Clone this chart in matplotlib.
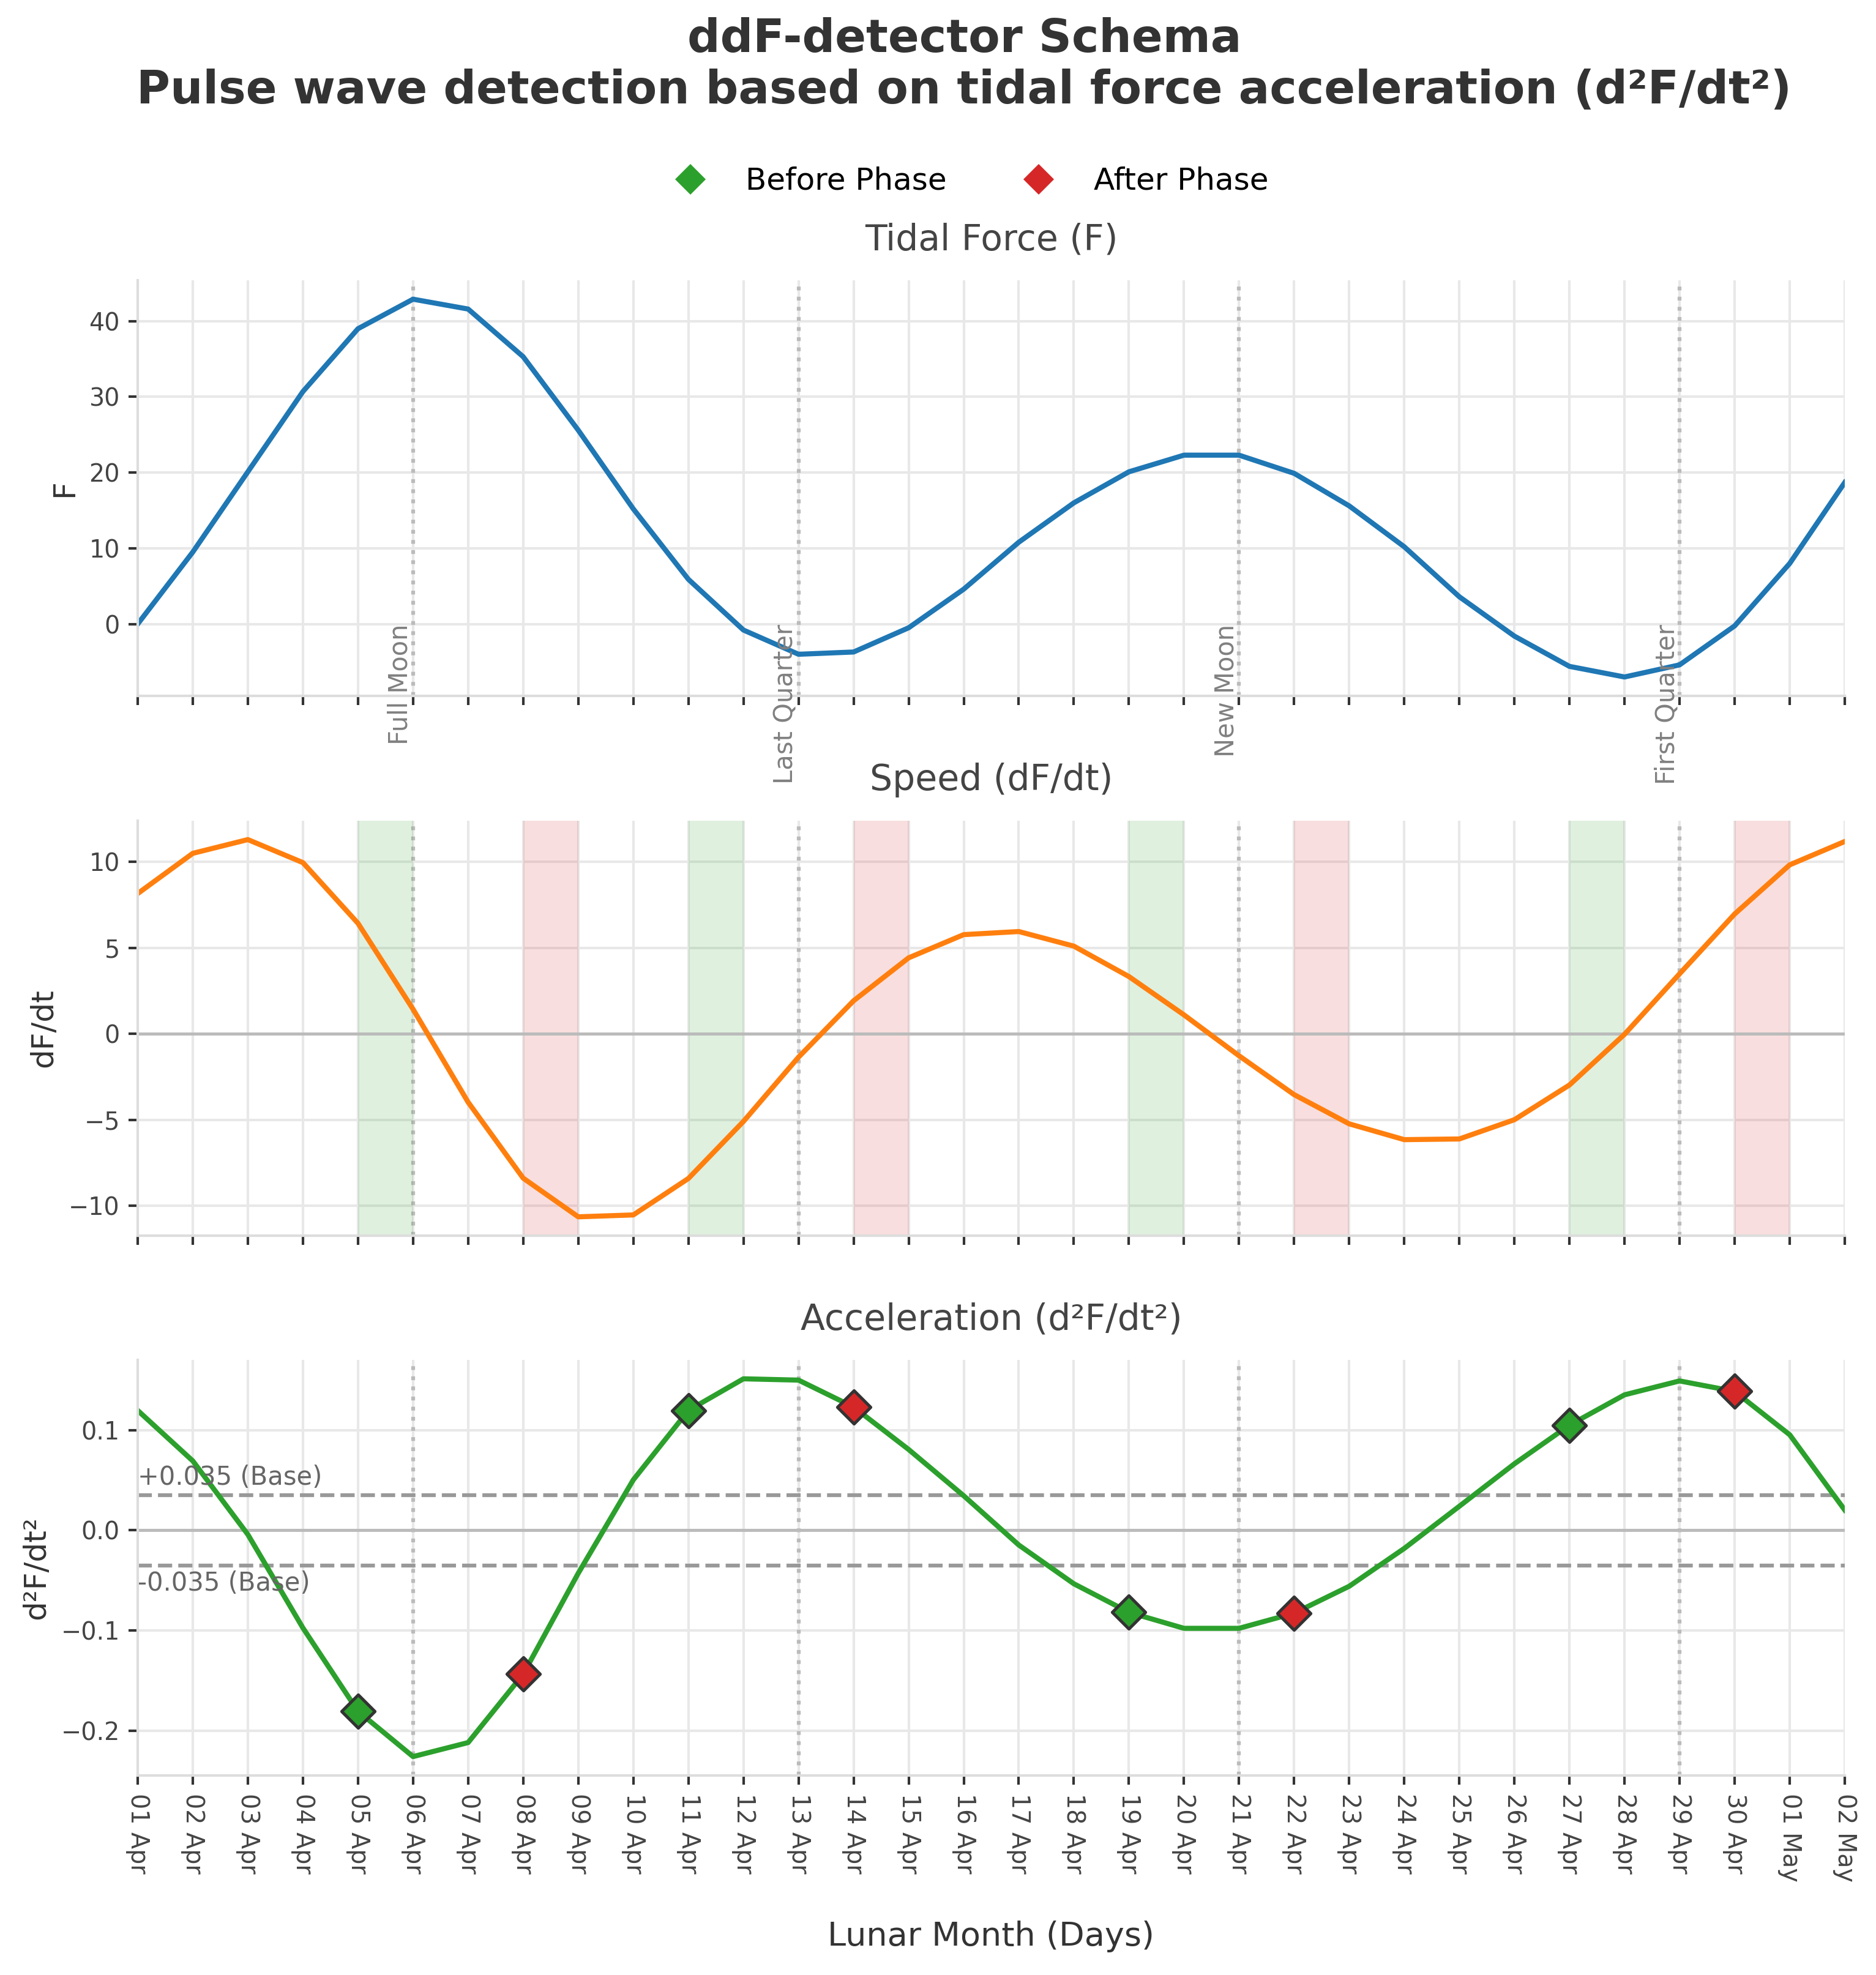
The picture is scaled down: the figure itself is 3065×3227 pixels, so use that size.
import matplotlib.pyplot as plt
from matplotlib.lines import Line2D

# day labels for the lunar month (x axis)
days = ['01 Apr', '02 Apr', '03 Apr', '04 Apr', '05 Apr', '06 Apr', '07 Apr', '08 Apr',
        '09 Apr', '10 Apr', '11 Apr', '12 Apr', '13 Apr', '14 Apr', '15 Apr', '16 Apr',
        '17 Apr', '18 Apr', '19 Apr', '20 Apr', '21 Apr', '22 Apr', '23 Apr', '24 Apr',
        '25 Apr', '26 Apr', '27 Apr', '28 Apr', '29 Apr', '30 Apr', '01 May', '02 May']

force = [0.0, 9.5, 20.1, 30.7, 39.0, 42.9, 41.6, 35.3, 25.6, 15.2, 5.9, -0.8,
         -4.0, -3.7, -0.5, 4.6, 10.8, 16.0, 20.1, 22.3, 22.3, 19.9, 15.6, 10.2,
         3.6, -1.6, -5.6, -7.0, -5.4, -0.25, 8.0, 18.7]

speed = [8.16, 10.5, 11.3, 9.96, 6.43, 1.43, -3.98, -8.4, -10.65, -10.54, -8.42, -5.1,
         -1.36, 1.92, 4.42, 5.77, 5.95, 5.1, 3.33, 1.1, -1.28, -3.54, -5.24, -6.16,
         -6.12, -5.0, -2.98, -0.03, 3.49, 6.97, 9.83, 11.19]

accel = [0.1197, 0.0693, -0.0042, -0.0975, -0.1807, -0.226, -0.212, -0.1437, -0.0429, 0.0504,
         0.1197, 0.1513, 0.150, 0.1231, 0.0807, 0.0345, -0.0147, -0.0534, -0.0819, -0.0979,
         -0.0979, -0.0828, -0.0559, -0.0181, 0.024, 0.0664, 0.105, 0.1353, 0.1492, 0.1387,
         0.0954, 0.0202]

phase_names = ['Full Moon', 'Last Quarter', 'New Moon', 'First Quarter']
phase_idx = [5, 12, 20, 28]

before_idx = [4, 10, 18, 26]
after_idx = [7, 13, 21, 29]

threshold = 0.035

BLUE = '#1f77b4'
ORANGE = '#ff7f0e'
GREEN = '#2ca02c'
RED = '#d62728'

x = list(range(len(days)))

fig = plt.figure(figsize=(3065 / 300, 3227 / 300), dpi=300)
L, W = 225 / 3065, (3014 - 225) / 3065
def pos(top, bot):
    return [L, 1 - bot / 3227, W, (bot - top) / 3227]

ax1 = fig.add_axes(pos(458, 1137))
ax2 = fig.add_axes(pos(1341, 2019), sharex=ax1)
ax3 = fig.add_axes(pos(2222, 2901), sharex=ax1)
axes = [ax1, ax2, ax3]

for ax in axes:
    ax.set_axisbelow(True)
    ax.grid(True, color='#e8e8e8', lw=1)
    for s in ['top', 'right']:
        ax.spines[s].set_visible(False)
    for s in ['left', 'bottom']:
        ax.spines[s].set_color('#dddddd')
        ax.spines[s].set_linewidth(1)
    ax.tick_params(labelsize=9.5, labelcolor='#444444', color='#333333', length=3.5, width=1)
    for i in phase_idx:
        ax.axvline(i, color='#bbbbbb', ls=':', lw=1.5, zorder=1)

# Tidal force
ax1.plot(x, force, color=BLUE, lw=2)
ax1.set_title('Tidal Force (F)', fontsize=14, color='#444444', pad=12)
ax1.set_ylabel('F', fontsize=12, color='#333333')
for i, name in zip(phase_idx, phase_names):
    ax1.text(i, 0, name, rotation=90, ha='right', va='top', fontsize=10, color='#808080')

# Speed
for i in before_idx:
    ax2.axvspan(i, i + 1, color=GREEN, alpha=0.15, lw=0)
for i in after_idx:
    ax2.axvspan(i, i + 1, color=RED, alpha=0.15, lw=0)
ax2.axhline(0, color='#bbbbbb', lw=1.2, zorder=1)
ax2.plot(x, speed, color=ORANGE, lw=2)
ax2.set_title('Speed (dF/dt)', fontsize=14, color='#444444', pad=12)
ax2.set_ylabel('dF/dt', fontsize=12, color='#333333')

# Acceleration
ax3.axhline(0, color='#bbbbbb', lw=1.2, zorder=1)
ax3.axhline(threshold, color='#999999', ls='--', lw=1.5)
ax3.axhline(-threshold, color='#999999', ls='--', lw=1.5)
ax3.plot(x, accel, color=GREEN, lw=2)
ax3.scatter(before_idx, [accel[i] for i in before_idx], marker='D', s=85,
            color=GREEN, edgecolor='#333333', lw=1.2, zorder=5)
ax3.scatter(after_idx, [accel[i] for i in after_idx], marker='D', s=85,
            color=RED, edgecolor='#333333', lw=1.2, zorder=5)
ax3.text(0, threshold + 0.005, '+0.035 (Base)', ha='left', va='bottom', fontsize=10, color='#666666')
ax3.text(0, -threshold - 0.005, '-0.035 (Base)', ha='left', va='top', fontsize=10, color='#666666')
ax3.set_title('Acceleration (d²F/dt²)', fontsize=14, color='#444444', pad=12)
ax3.set_ylabel('d²F/dt²', fontsize=12, color='#333333')
ax3.set_xlabel('Lunar Month (Days)', fontsize=13, color='#333333', labelpad=15)

ax3.set_xlim(0, len(days) - 1)
ax3.set_xticks(x)
ax3.set_xticklabels(days, rotation=270, ha='center', va='top')
plt.setp(ax1.get_xticklabels(), visible=False)
plt.setp(ax2.get_xticklabels(), visible=False)

fig.text(0.514, 0.967, 'ddF-detector Schema\nPulse wave detection based on tidal force acceleration (d²F/dt²)',
         ha='center', va='center', fontsize=18, fontweight='bold', color='#333333')

handles = [Line2D([0], [0], marker='D', color='w', markerfacecolor=GREEN, markersize=9.5, label='Before Phase'),
           Line2D([0], [0], marker='D', color='w', markerfacecolor=RED, markersize=9.5, label='After Phase')]
fig.legend(handles=handles, loc='center', bbox_to_anchor=(0.514, 1 - 296 / 3227), ncol=2,
           frameon=False, fontsize=12)

fig.savefig('out.png', dpi=300)
